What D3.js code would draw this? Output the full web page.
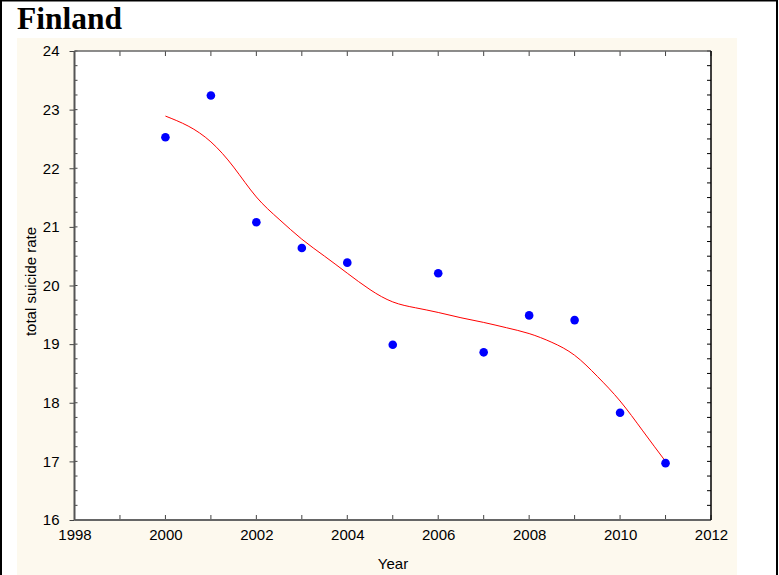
<!DOCTYPE html>
<html>
<head>
<meta charset="utf-8">
<script src="https://cdn.jsdelivr.net/npm/d3@7"></script>
<style>
  html, body { margin: 0; padding: 0; background: #fff; }
  svg { display: block; }
</style>
</head>
<body>
<svg id="chart" width="779" height="575"></svg>
<script>
// ---- data ----
const title = "Finland";
const years = [2000, 2001, 2002, 2003, 2004, 2005, 2006, 2007, 2008, 2009, 2010, 2011];
const rates = [22.53, 23.24, 21.08, 20.64, 20.39, 18.99, 20.21, 18.86, 19.49, 19.41, 17.83, 16.97];
// fitted smooth curve
const fitYears = [2000, 2000.5, 2001, 2001.5, 2002, 2002.5, 2003, 2003.5, 2004, 2004.5, 2005, 2005.5, 2006, 2006.5, 2007, 2007.5, 2008, 2008.5, 2009, 2009.5, 2010, 2010.5, 2011];
const fitRates = [22.89, 22.72, 22.45, 22.02, 21.51, 21.13, 20.79, 20.50, 20.21, 19.93, 19.72, 19.62, 19.54, 19.45, 19.37, 19.28, 19.18, 19.03, 18.81, 18.45, 18.03, 17.52, 17.00];
const xTicks = [1998, 2000, 2002, 2004, 2006, 2008, 2010, 2012];
const yTicks = [16, 17, 18, 19, 20, 21, 22, 23, 24];
const xLabel = "Year";
const yLabel = "total suicide rate";

// ---- layout ----
const svg = d3.select("#chart");
const L = 74.5, R = 711, T = 51, B = 520;

svg.append("rect").attr("x", 1).attr("y", 0.5).attr("width", 776).attr("height", 580)
  .attr("fill", "#fff").attr("stroke", "#000").attr("stroke-width", 2);

svg.append("rect").attr("x", 17).attr("y", 38).attr("width", 720).attr("height", 540)
  .attr("fill", "#fdf9ee");

svg.append("text").attr("x", 17).attr("y", 29)
  .attr("font-family", "'Liberation Serif', 'Times New Roman', serif")
  .attr("font-weight", "bold").attr("font-size", 31.5).attr("fill", "#000").text(title);

const x = d3.scaleLinear().domain([1998, 2012]).range([L, R]);
const y = d3.scaleLinear().domain([16, 24]).range([B, T]);

svg.append("rect").attr("x", L).attr("y", T).attr("width", R - L).attr("height", B - T).attr("fill", "#fff");

const font = "'Liberation Sans', Arial, sans-serif";

// axes
const minorX = d3.range(1998, 2012.01, 1);
const minorY = d3.range(16, 24.01, 0.25);

const bottom = svg.append("g").attr("transform", `translate(0,${B})`)
  .call(d3.axisBottom(x).tickValues(xTicks).tickFormat(d3.format("d")).tickSize(0).tickPadding(9.5));
bottom.selectAll("text").attr("font-family", font).attr("font-size", 15).attr("fill", "#000");
bottom.select(".domain").remove();

const left = svg.append("g").attr("transform", `translate(${L},0)`)
  .call(d3.axisLeft(y).tickValues(yTicks).tickFormat(d3.format("d")).tickSize(5).tickPadding(10));
left.selectAll("text").attr("font-family", font).attr("font-size", 15).attr("fill", "#000");
left.selectAll("line").attr("stroke", "#444");
left.select(".domain").remove();

// minor ticks (inward)
const tk = svg.append("g").attr("stroke", "#444").attr("stroke-width", 1);
tk.selectAll(".bx").data(minorX).join("line")
  .attr("x1", d => x(d)).attr("x2", d => x(d)).attr("y1", B).attr("y2", B - 5);
tk.selectAll(".tx").data(minorX).join("line")
  .attr("x1", d => x(d)).attr("x2", d => x(d)).attr("y1", T).attr("y2", T + 5);
tk.selectAll(".ly").data(minorY).join("line")
  .attr("x1", L).attr("x2", L + 3).attr("y1", d => y(d)).attr("y2", d => y(d));
tk.selectAll(".ry").data(minorY).join("line")
  .attr("x1", R).attr("x2", R - 4).attr("y1", d => y(d)).attr("y2", d => y(d)).attr("stroke", "#000");

// frame
svg.append("line").attr("x1", L).attr("x2", R).attr("y1", T).attr("y2", T).attr("stroke", "#666").attr("stroke-width", 1.5);
svg.append("line").attr("x1", L).attr("x2", R).attr("y1", B).attr("y2", B).attr("stroke", "#666").attr("stroke-width", 2);
svg.append("line").attr("x1", L).attr("x2", L).attr("y1", T).attr("y2", B).attr("stroke", "#555").attr("stroke-width", 2);
svg.append("line").attr("x1", R).attr("x2", R).attr("y1", T).attr("y2", B).attr("stroke", "#000").attr("stroke-width", 1.5);

// fit curve
const line = d3.line().x((d, i) => x(fitYears[i])).y(d => y(d)).curve(d3.curveNatural);
svg.append("path").attr("d", line(fitRates)).attr("fill", "none").attr("stroke", "#ff0000").attr("stroke-width", 1);

// points
svg.append("g").selectAll("circle").data(rates).join("circle")
  .attr("cx", (d, i) => x(years[i])).attr("cy", d => y(d)).attr("r", 4.3).attr("fill", "#0000ff");

// axis titles
svg.append("text").attr("x", 393).attr("y", 569).attr("text-anchor", "middle")
  .attr("font-family", font).attr("font-size", 15).attr("fill", "#000").text(xLabel);
svg.append("text").attr("transform", `translate(36,${(T + B) / 2 - 4}) rotate(-90)`).attr("text-anchor", "middle")
  .attr("font-family", font).attr("font-size", 15).attr("fill", "#000").text(yLabel);
</script>
</body>
</html>
